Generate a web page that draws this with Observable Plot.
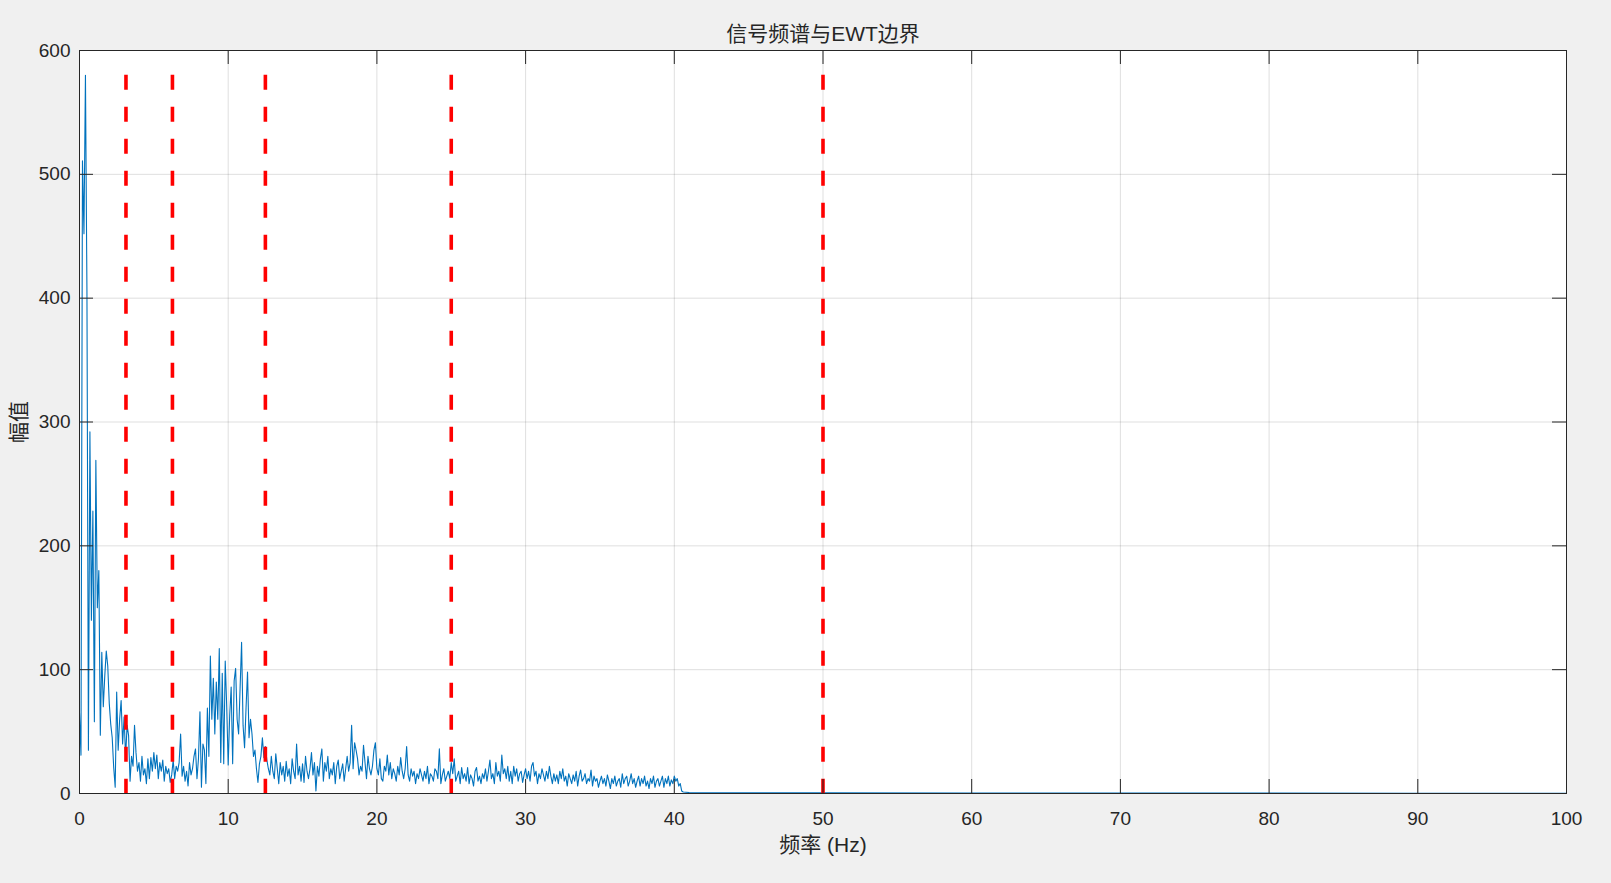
<!DOCTYPE html>
<html>
<head>
<meta charset="utf-8">
<script src="https://cdn.jsdelivr.net/npm/d3@7"></script>
<script src="https://cdn.jsdelivr.net/npm/@observablehq/plot@0.6"></script>
<style>
  html, body { margin: 0; padding: 0; background: #f0f0f0; }
  #chart { width: 1611px; height: 883px; }
</style>
</head>
<body>
<div id="chart"></div>
<script>
// ---- data ----
const titleText = "信号频谱与EWT边界";
const xLabel = "频率 (Hz)";
const yLabel = "幅值";
const xTicks = [0, 10, 20, 30, 40, 50, 60, 70, 80, 90, 100];
const yTicks = [0, 100, 200, 300, 400, 500, 600];
const ewtBounds = [3.125, 6.25, 12.5, 25, 50];
const boundTop = 580;
const freqStart = 0;
const freqStep = 0.1;
// spectrum amplitude, one bin every 0.1 Hz from 0 to 40.5 Hz
const amplitude = [
  65,31,511,452,580,406,35,292,140,228,
  58,269,150,180,47,114,70,95,115,103,
  73,56,45,21,5,82,35,60,75,40,
  62,29,55,47,10,30,22,55,33,18,
  25,10,30,15,20,8,28,12,29,18,
  33,20,31,12,25,18,27,10,22,16,
  20,9,15,27,12,22,18,25,48,14,
  22,10,18,6,25,15,20,30,36,12,
  28,66,5,40,35,8,69,30,111,60,
  93,48,90,60,117,25,97,24,107,70,
  23,63,86,24,91,101,60,48,85,122,
  55,37,69,98,45,60,48,30,35,20,
  9,24,30,45,29,38,27,20,15,30,
  18,12,32,20,8,25,15,22,10,26,
  14,20,8,28,18,12,40,15,22,10,
  24,9,30,18,12,20,33,15,25,2,
  22,14,28,36,10,25,18,30,12,20,
  15,25,8,22,27,12,18,24,10,20,
  30,18,25,55,20,41,35,28,15,22,
  18,39,25,12,30,20,15,22,35,41,
  20,15,28,12,10,22,18,31,15,25,
  12,20,16,10,22,15,29,18,12,20,
  38,15,10,20,14,18,8,16,12,20,
  15,10,18,12,22,8,16,14,10,20,
  18,12,36,8,15,20,10,14,18,12,
  25,16,28,10,14,18,8,21,12,16,
  10,21,8,15,12,6,18,21,10,14,
  8,16,12,20,10,18,27,12,16,8,
  25,14,18,10,31,16,20,12,22,10,
  18,8,22,14,20,10,16,18,9,15,
  20,12,18,10,22,25,14,18,8,16,
  12,20,15,10,18,12,22,14,8,16,
  10,15,8,18,12,20,10,14,6,16,
  12,8,15,10,18,6,14,19,10,12,
  16,8,12,10,19,6,14,10,12,5,
  10,14,8,12,6,15,10,4,12,8,
  14,6,10,12,5,16,8,12,14,6,
  10,16,8,12,5,10,14,6,12,8,
  14,6,10,4,12,8,14,5,10,12,
  6,10,14,5,12,8,14,6,11,8,
  14,10,12,6,8,2
];
const tailFreq = [40.6, 41, 45, 50, 60, 70, 80, 90, 100];
const tailAmp  = [1.2, 0.8, 0.6, 0.5, 0.4, 0.3, 0.3, 0.2, 0.2];

// ---- build table ----
const spectrum = amplitude.map((a, i) => ({f: +(freqStart + i * freqStep).toFixed(2), a}))
  .concat(tailFreq.map((f, i) => ({f, a: tailAmp[i]})));

const W = 1611, H = 883;
const mL = 79, mR = 45, mT = 50, mB = 90;
const plotW = W - mL - mR, plotH = H - mT - mB;
const tick = 14;
const ink = "#262626";
const font = "'Liberation Sans', Arial, 'Noto Sans CJK SC', sans-serif";
const tickFont = 19;
const labelFont = 21;

const chart = Plot.plot({
  width: W, height: H,
  marginLeft: mL, marginRight: mR, marginTop: mT, marginBottom: mB,
  style: {background: "transparent", fontFamily: font, fontSize: tickFont + "px", color: ink, overflow: "visible"},
  x: {domain: [0, 100], ticks: xTicks, label: null},
  y: {domain: [0, 600], ticks: yTicks, label: null},
  marks: [
    Plot.frame({fill: "white", stroke: null}),
    Plot.gridX(xTicks, {stroke: ink, strokeOpacity: 0.15, strokeWidth: 1}),
    Plot.gridY(yTicks, {stroke: ink, strokeOpacity: 0.15, strokeWidth: 1}),
    Plot.line(spectrum, {x: "f", y: "a", stroke: "#0072BD", strokeWidth: 1.1, clip: true}),
    Plot.ruleX(ewtBounds, {x: d => d, y1: boundTop, y2: 0, stroke: "#FF0000", strokeWidth: 3.6, strokeDasharray: "15,17"}),
    // inward ticks on all four sides
    Plot.ruleX(xTicks, {x: d => d, insetTop: plotH - tick, stroke: ink, strokeWidth: 1}),
    Plot.ruleX(xTicks, {x: d => d, insetBottom: plotH - tick, stroke: ink, strokeWidth: 1}),
    Plot.ruleY(yTicks, {y: d => d, insetRight: plotW - tick, stroke: ink, strokeWidth: 1}),
    Plot.ruleY(yTicks, {y: d => d, insetLeft: plotW - tick, stroke: ink, strokeWidth: 1}),
    Plot.frame({stroke: ink, strokeWidth: 1}),
    Plot.axisX(xTicks, {tickSize: 0, tickPadding: 18, fontSize: tickFont, fill: ink, label: null}),
    Plot.axisY(yTicks, {tickSize: 0, tickPadding: 9, fontSize: tickFont, fill: ink, label: null}),
    Plot.text([titleText], {frameAnchor: "top", lineAnchor: "middle", textAnchor: "middle", dy: -16, fontSize: labelFont, fill: ink, fontFamily: font}),
    Plot.text([xLabel], {frameAnchor: "bottom", lineAnchor: "middle", textAnchor: "middle", dy: 52, fontSize: labelFont, fill: ink, fontFamily: font}),
    Plot.text([yLabel], {frameAnchor: "left", lineAnchor: "middle", textAnchor: "middle", dx: -60, rotate: -90, fontSize: labelFont, fill: ink, fontFamily: font})
  ]
});
document.getElementById("chart").appendChild(chart);
</script>
</body>
</html>
